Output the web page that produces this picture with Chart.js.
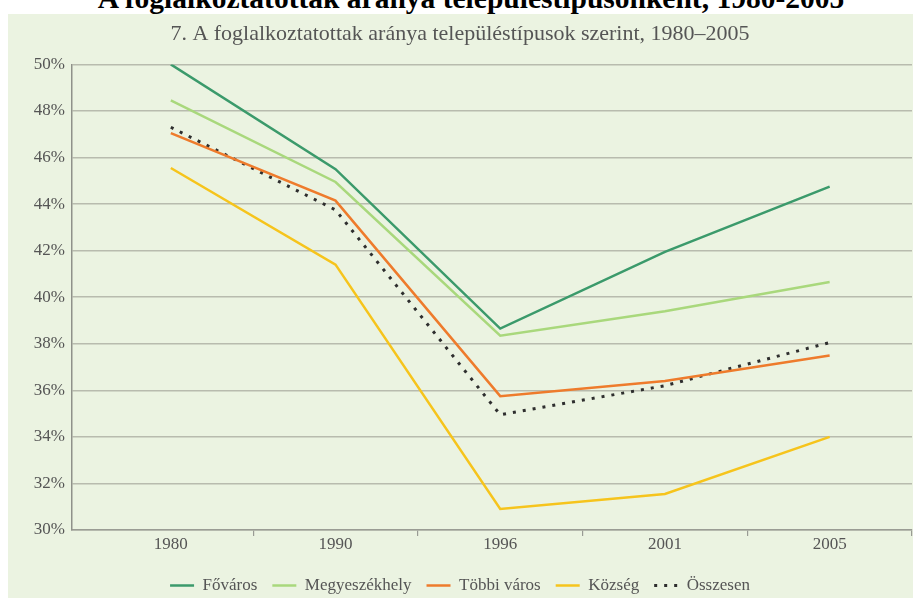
<!DOCTYPE html>
<html>
<head>
<meta charset="utf-8">
<script src="https://cdn.jsdelivr.net/npm/chart.js@4.4.1/dist/chart.umd.min.js"></script>
<style>
  html, body { margin: 0; padding: 0; background: #fff; }
  body { width: 913px; height: 598px; position: relative; overflow: hidden; }
  #fejlec {
    position: absolute; left: 0; top: -16px; width: 942px; text-align: center;
    font: bold 29.5px "Liberation Serif", serif; line-height: 1; color: #000; z-index: 2;
    white-space: nowrap;
  }
  #panel {
    position: absolute; left: 8px; top: 14px; width: 905px; height: 584px;
    background: #ebf3e1;
  }
</style>
</head>
<body>
<div id="fejlec">A foglalkoztatottak aránya településtípusonként, 1980-2005</div>
<div id="panel"><canvas id="grafikon" width="905" height="584"></canvas></div>
<script>
// Évek (kategóriák)
const evek = ['1980', '1990', '1996', '2001', '2005'];

// Foglalkoztatottak aránya, %
const fovaros = [50.0, 45.5, 38.65, 41.95, 44.75];
const megyeszekhely = [48.45, 44.95, 38.35, 39.4, 40.65];
const tobbiVaros = [47.05, 44.15, 35.75, 36.4, 37.5];
const kozseg = [45.55, 41.4, 30.9, 31.55, 34.0];
const osszesen = [47.3, 43.75, 34.95, 36.2, 38.05];

const betu = '"Liberation Serif", serif';
const szurke = '#555';

function pontok(ertekek) {
    return ertekek.map((v, i) => ({ x: i, y: v }));
}

// a jelmagyarázat vonalai kapják meg a szaggatást is
function jelmagyarazat(chart) {
    return Chart.defaults.plugins.legend.labels.generateLabels(chart).map(l => {
        const ds = chart.data.datasets[l.datasetIndex];
        l.lineDash = ds.borderDash || [];
        l.lineWidth = ds.borderWidth;
        l.strokeStyle = ds.borderColor;
        return l;
    });
}

const ctx = document.getElementById('grafikon').getContext('2d');
new Chart(ctx, {
    type: 'line',
    data: {
        datasets: [
            { label: 'Főváros', data: pontok(fovaros), borderColor: '#3b9a6b', borderWidth: 2.5 },
            { label: 'Megyeszékhely', data: pontok(megyeszekhely), borderColor: '#a9d87c', borderWidth: 2.5 },
            { label: 'Többi város', data: pontok(tobbiVaros), borderColor: '#ee7b2c', borderWidth: 2.5 },
            { label: 'Község', data: pontok(kozseg), borderColor: '#f6c41c', borderWidth: 2.5 },
            { label: 'Összesen', data: pontok(osszesen), borderColor: '#2e2e2e', borderWidth: 3, borderDash: [3, 7] }
        ]
    },
    options: {
        responsive: false,
        animation: false,
        layout: { padding: { left: 0, right: 1, top: 0, bottom: -6 } },
        elements: { point: { radius: 0 }, line: { tension: 0, fill: false } },
        plugins: {
            title: {
                display: true,
                text: '7. A foglalkoztatottak aránya településtípusok szerint, 1980–2005',
                color: szurke,
                font: { family: betu, size: 22, weight: 'normal' },
                padding: { top: 7, bottom: 17 }
            },
            legend: {
                position: 'bottom',
                labels: {
                    usePointStyle: true,
                    pointStyle: 'line',
                    pointStyleWidth: 24,
                    generateLabels: jelmagyarazat,
                    color: szurke,
                    padding: 15,
                    font: { family: betu, size: 17 }
                }
            },
            tooltip: { enabled: false }
        },
        scales: {
            x: {
                type: 'linear',
                min: -0.6,
                max: 4.5,
                afterBuildTicks: (skala) => {
                    const t = [];
                    for (let v = 0; v <= 4.5; v += 0.5) t.push({ value: v });
                    skala.ticks = t;
                },
                afterFit: (skala) => { skala.height = 32; },
                grid: {
                    drawOnChartArea: false,
                    tickLength: 6,
                    lineWidth: 1.2,
                    tickColor: (c) => Number.isInteger(c.tick.value) ? 'rgba(0,0,0,0)' : '#999b94'
                },
                border: { color: '#9a9c94', width: 1.5 },
                ticks: {
                    autoSkip: false,
                    maxRotation: 0,
                    padding: -2,
                    color: szurke,
                    font: { family: betu, size: 17 },
                    callback: (v) => Number.isInteger(v) ? evek[v] : ''
                }
            },
            y: {
                min: 30,
                max: 50,
                afterFit: (skala) => { skala.width = 64; },
                grid: { color: '#b8bbae', lineWidth: 1.5, drawTicks: false },
                border: { color: '#8f918a', width: 1.5 },
                ticks: {
                    stepSize: 2,
                    padding: 7,
                    color: szurke,
                    font: { family: betu, size: 17 },
                    callback: (v) => v + '%'
                }
            }
        }
    }
});
</script>
</body>
</html>
